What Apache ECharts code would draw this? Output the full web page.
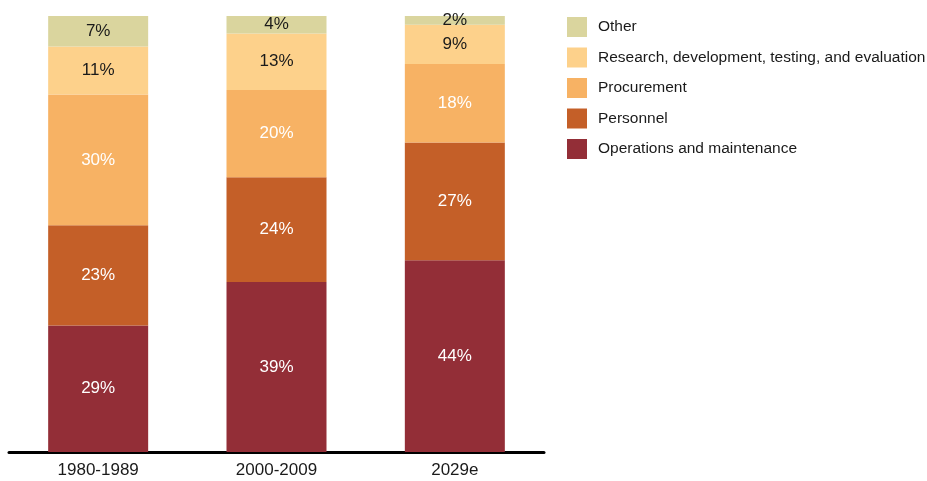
<!DOCTYPE html>
<html>
<head>
<meta charset="utf-8">
<script src="https://cdn.jsdelivr.net/npm/echarts@6/dist/echarts.min.js"></script>
<style>
  html, body { margin: 0; padding: 0; background: #fff; }
  #main { width: 927px; height: 481px; }
</style>
</head>
<body>
<div id="main"></div>
<script>
// categories and shares (%) for each budget segment
var periods = ['1980-1989', '2000-2009', '2029e'];
var operations = [29, 39, 44];
var personnel = [23, 24, 27];
var procurement = [30, 20, 18];
var research = [11, 13, 9];
var other = [7, 4, 2];

var names = [
    'Operations and maintenance',
    'Personnel',
    'Procurement',
    'Research, development, testing, and evaluation',
    'Other'
];
var colors = ['#932e37', '#c45f28', '#f7b264', '#fdd18b', '#dad59e'];
var labelColors = ['#fff', '#fff', '#fff', '#1a1a1a', '#1a1a1a'];
var values = [operations, personnel, procurement, research, other];

var font = 'Helvetica, "Liberation Sans", Arial, sans-serif';

var series = [];
for (var i = 0; i < names.length; i++) {
    series.push({
        name: names[i],
        type: 'bar',
        stack: 'total',
        barWidth: 100,
        data: values[i],
        itemStyle: { color: colors[i] },
        label: {
            show: true,
            position: 'inside',
            formatter: '{c}%',
            color: labelColors[i],
            fontSize: 17,
            fontFamily: font
        }
    });
}

var myChart = echarts.init(document.getElementById('main'));
myChart.setOption({
    animation: false,
    legend: {
        orient: 'vertical',
        left: 567,
        top: 17,
        padding: 0,
        itemWidth: 20,
        itemHeight: 20,
        itemGap: 10.5,
        icon: 'rect',
        data: names.slice().reverse(),
        textStyle: { fontSize: 15.5, color: '#1a1a1a', fontFamily: font, padding: [0, 0, 0, 6] }
    },
    grid: { left: 9, right: 383, top: 16, bottom: 29, containLabel: false },
    xAxis: {
        type: 'category',
        data: periods,
        axisLine: { lineStyle: { color: '#000', width: 3 } },
        axisTick: { show: false },
        axisLabel: { color: '#1a1a1a', fontSize: 17, margin: 10, fontFamily: font }
    },
    yAxis: {
        type: 'value',
        min: 0,
        max: 100,
        show: false,
        splitLine: { show: false }
    },
    series: series
});
</script>
</body>
</html>
